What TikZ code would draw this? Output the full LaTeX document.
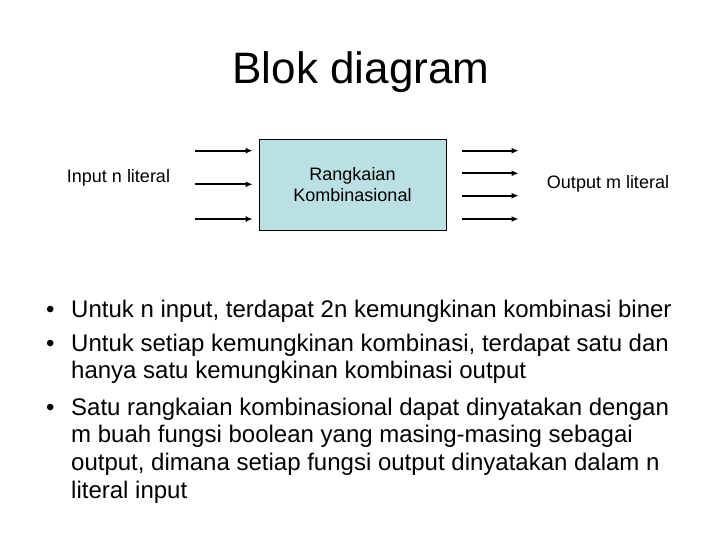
\documentclass[tikz,border=0pt]{standalone}
\usepackage{fontspec}
\setmainfont{Liberation Sans}
\usetikzlibrary{arrows.meta,positioning}
\definecolor{blokfill}{RGB}{187,224,227}
\newcommand{\baris}[1]{\begin{tabular}[t]{@{}l@{}}#1\end{tabular}}

\begin{document}
\begin{tikzpicture}[x=1pt,y=-1pt,
  blok/.style={draw,fill=blokfill,line width=0.8pt,minimum width=187pt,minimum height=91pt,inner sep=0pt,align=center,font=\fontsize{18}{21.6}\selectfont},
  lbl/.style={anchor=base,inner sep=0pt,font=\fontsize{18}{21.6}\selectfont},
  sig/.style={line width=2pt,-{Latex[length=7pt,width=6pt]}},
  titik/.style={anchor=base west,inner sep=0pt,font=\fontsize{24}{27.7}\selectfont},
  poin/.style={anchor=base west,inner sep=0pt,font=\fontsize{24}{27.7}\selectfont}]
\useasboundingbox (0,0) rectangle (720,540);
\node[anchor=base,inner sep=0pt,font=\fontsize{44}{52}\selectfont] (judul) at (361,84) {Blok diagram};
\node[blok] (rk) at (352.5,184.5) {Rangkaian\\Kombinasional};
\node[lbl] (inp) at (118.5,183) {Input n literal};
\node[lbl] (outp) at (608,189) {Output m literal};
% sinyal masuk dan keluar
\foreach \i/\y in {1/150.7,2/184.3,3/219}
  \coordinate (in\i) at (195,\y);
\foreach \i/\y in {1/150.7,2/173.3,3/195.7,4/219}
  \coordinate (out\i) at (518.5,\y);
\foreach \i in {1,2,3}
  \draw[sig,shorten >=6pt] (in\i) -- (in\i -| rk.west);
\foreach \i in {1,2,3,4}
  \draw[sig,shorten <=16pt] (out\i -| rk.east) -- (out\i);
% poin-poin
\node[titik] (t1) at (46,317) {•};
\node[poin] (p1) at (71,317) {Untuk n input, terdapat 2n kemungkinan kombinasi biner};
\node[titik] (t2) at (46,351) {•};
\node[poin] (p2) at (71,351) {\baris{Untuk setiap kemungkinan kombinasi, terdapat satu dan\\hanya satu kemungkinan kombinasi output}};
\node[titik] (t3) at (46,415) {•};
\node[poin] (p3) at (71,415) {\baris{Satu rangkaian kombinasional dapat dinyatakan dengan\\m buah fungsi boolean yang masing-masing sebagai\\output, dimana setiap fungsi output dinyatakan dalam n\\literal input}};
\end{tikzpicture}
\end{document}
